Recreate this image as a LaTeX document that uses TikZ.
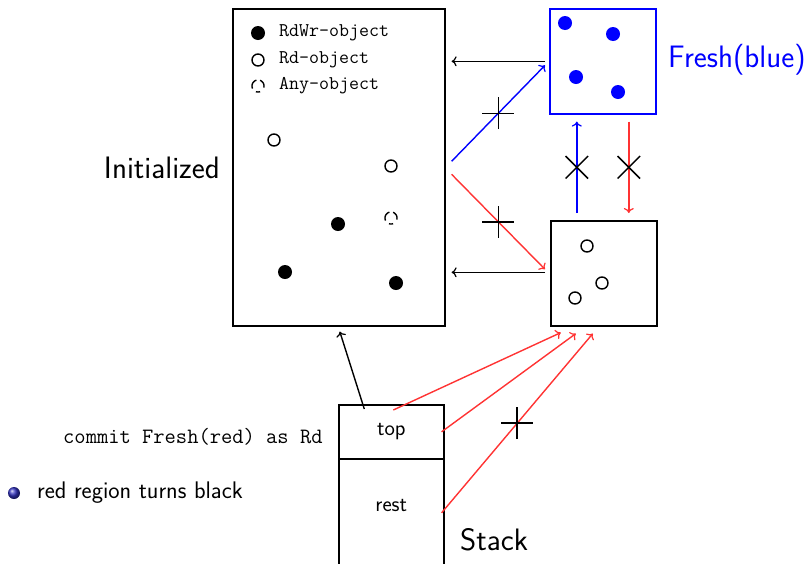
\documentclass[tikz,border=0pt]{standalone}
\usepackage{fontspec}
\usetikzlibrary{calc,shapes.misc,arrows.meta}
\begin{document}
\begin{tikzpicture}[x=1pt,y=-1pt,
  box/.style={draw,line width=1.6pt,inner sep=0pt,anchor=north west},
  arr/.style={-{To[length=5pt,width=10pt,line width=1.2pt]},line width=1.4pt},
  blk/.style={arr,black},
  blu/.style={arr,blue},
  rd/.style={arr,red!80},
  xmark/.style={cross out,draw,black,line width=1.5pt,minimum size=21pt,inner sep=0pt},
  pmark/.style={xmark,rotate=45},
  full/.style={circle,fill=black,inner sep=0pt,minimum size=14pt},
  bdot/.style={circle,fill=blue,inner sep=0pt,minimum size=14pt},
  open/.style={circle,draw,line width=1.4pt,inner sep=0pt,minimum size=12pt},
  anyo/.style={circle,inner sep=0pt,minimum size=12pt},
  anyarc/.style={line width=1.4pt},
  lab/.style={font=\sffamily\fontsize{31}{33}\selectfont,inner sep=0pt},
  leg/.style={font=\ttfamily\fontsize{19.4}{21}\selectfont,anchor=west,inner sep=0pt},
  cell/.style={font=\sffamily\fontsize{22}{24}\selectfont,inner sep=0pt},
]
\useasboundingbox (0,0) rectangle (805,563);
% boxes
\node[box,minimum width=212pt,minimum height=317pt] (init) at (232,8) {};
\node[box,blue,minimum width=106pt,minimum height=105pt] (fresh) at (549,8) {};
\node[box,minimum width=106pt,minimum height=105pt] (rdbox) at (550,220) {};
\node[box,minimum width=105pt,minimum height=54pt] (top) at (338,404) {};
\node[cell] (toplab) at (top.center) {top};
\node[box,minimum width=105pt,minimum height=112pt] (rest) at (338,458) {};
\node[cell] (restlab) at ($(rest.north)+(0,47)$) {rest};
% labels
\node[lab,anchor=east] (linit) at (220,168) {Initialized};
\node[lab,anchor=west,text=blue] (lfresh) at (668,60) {Fresh(blue)};
\node[lab,anchor=west] (lstack) at (460,540) {Stack};
\node[font=\ttfamily\fontsize{21.9}{23}\selectfont,anchor=west,inner sep=0pt] (commit) at (63,437) {commit Fresh(red) as Rd};
\shade[ball color=blue!70!black!80] (14,493) circle (6pt);
\node[font=\sffamily\fontsize{24}{26}\selectfont,anchor=west,inner sep=0pt] (redreg) at (37,493) {red region turns black};
% legend
\node[full] (l1) at (258,33) {};
\node[leg] (t1) at (279,33) {RdWr-object};
\node[open] (l2) at (258,60) {};
\node[leg] (t2) at (279,60) {Rd-object};
\node[anyo] (l3) at (258,86) {};
\node[leg] (t3) at (279,86) {Any-object};
% objects in init
\node[open] (a1) at (274,140) {};
\node[open] (a2) at (391,166) {};
\node[full] (a3) at (338,224) {};
\node[anyo] (a4) at (391,218) {};
\node[full] (a5) at (285,272) {};
\node[full] (a6) at (396,283) {};
% dashed "any" circles: three arcs (angles measured upward)
\foreach \n in {l3,a4}{
  \begin{scope}[shift={(\n.center)}]
  \foreach \a/\b in {-15/70,105/205,250/290}{
    \draw[anyarc] plot[domain=\a:\b,samples=16] ({-\x}:6);
  }
  \end{scope}
}
% fresh dots
\node[bdot] (b1) at (565,23) {};
\node[bdot] (b2) at (613,34) {};
\node[bdot] (b3) at (576,77) {};
\node[bdot] (b4) at (618,92) {};
% rd box circles
\node[open] (c1) at (587,246) {};
\node[open] (c2) at (602,283) {};
\node[open] (c3) at (575,298) {};
% arrows
\draw[blk] ($(fresh.west)+(-4,0)$) -- ($(init.east|-fresh.west)+(6,0)$);
\draw[blk] ($(rdbox.west)+(-5,-1)$) -- ($(init.east|-rdbox.west)+(6,-1)$);
\draw[blu] ($(init.east)+(6,-6)$) -- node[pos=.5,pmark]{} ($(fresh.west)+(-4,4)$);
\draw[rd] ($(init.east)+(6,7)$) -- node[pos=.5,pmark]{} ($(rdbox.west)+(-5,-4)$);
\draw[blu] ($(rdbox.north)+(-27,-7)$) -- node[pos=.5,xmark]{} ($(fresh.south)+(-26,7)$);
\draw[rd] ($(fresh.south)+(26,7)$) -- node[pos=.5,xmark]{} ($(rdbox.north)+(25,-7)$);
\draw[blk] ($(top.north)+(-27,5)$) -- ($(init.south)+(1,5)$);
\draw[rd] ($(top.north)+(2,6)$) -- ($(rdbox.south)+(-43,6)$);
\draw[rd] ($(top.east)+(-3,0)$) -- ($(rdbox.south)+(-28,7)$);
\draw[rd] ($(rest.east)+(-3,-2)$) -- node[pos=.5,pmark]{} ($(rdbox.south)+(-11,7)$);
\end{tikzpicture}
\end{document}
